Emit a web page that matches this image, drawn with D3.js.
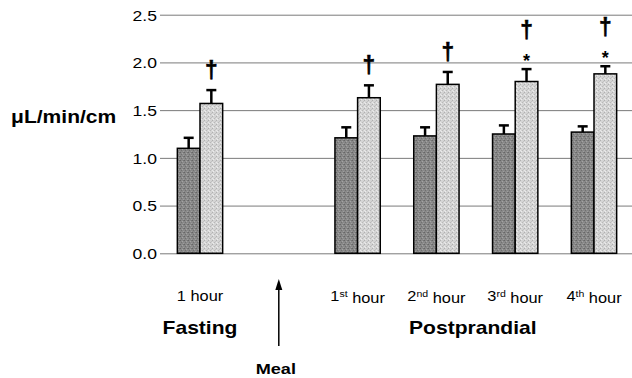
<!DOCTYPE html>
<html>
<head>
<meta charset="utf-8">
<script src="https://cdn.jsdelivr.net/npm/d3@7"></script>
<style>
  html, body { margin: 0; padding: 0; background: #fff; }
  svg { display: block; }
  text { font-family: "Liberation Sans", Arial, Helvetica, sans-serif; fill: #000; }
</style>
</head>
<body>
<svg id="chart" width="632" height="378"></svg>
<script>
// Time slots along the x axis; the "Meal" slot holds no bars.
const categories = ["1 hour", "Meal", "1st hour", "2nd hour", "3rd hour", "4th hour"];
// Two groups of measurements (µL/min/cm) with their error bars.
const seriesDark = [1.10, null, 1.21, 1.23, 1.25, 1.27];
const errorDark  = [0.11, null, 0.11, 0.09, 0.09, 0.06];
const seriesLight = [1.57, null, 1.63, 1.77, 1.80, 1.88];
const errorLight  = [0.14, null, 0.13, 0.13, 0.13, 0.08];
// Significance marks above the light bars.
const daggerMarks = [true, false, true, true, true, true];
const starMarks   = [false, false, false, false, true, true];
const yTicks = [0, 0.5, 1.0, 1.5, 2.0, 2.5];

const svg = d3.select("#chart");
const SX = 1.17; // horizontal stretch of the lettering

const x = d3.scaleBand().domain(categories).range([160.6, 633.4])
  .paddingInner(0.425).paddingOuter(0.2125);
const inner = d3.scaleBand().domain(["dark", "light"]).range([0, x.bandwidth()]);
const y = d3.scaleLinear().domain([0, 2.5]).range([253.3, 14.7]);

// Textured fills for the two bar shades
const defs = svg.append("defs");
function texture(id, base, spots) {
  const p = defs.append("pattern").attr("id", id)
    .attr("patternUnits", "userSpaceOnUse").attr("width", 4).attr("height", 4);
  p.append("rect").attr("width", 4).attr("height", 4).attr("fill", base);
  spots.forEach(([sx, sy, c]) => p.append("rect").attr("x", sx).attr("y", sy)
    .attr("width", 1).attr("height", 1).attr("fill", c));
}
texture("texDark", "#888888", [[0,0,"#666"],[2,1,"#a4a4a4"],[1,2,"#707070"],[3,3,"#9e9e9e"],[3,0,"#747474"]]);
texture("texLight", "#d4d4d4", [[0,0,"#b0b0b0"],[2,2,"#b8b8b8"],[1,3,"#ececec"],[3,1,"#c2c2c2"],[0,2,"#e8e8e8"]]);

// Horizontal grid with tick labels
const axis = svg.append("g").attr("transform", "translate(160,0)")
  .call(d3.axisLeft(y).tickValues(yTicks).tickFormat(d3.format(".1f"))
    .tickSizeInner(-472).tickSizeOuter(0).tickPadding(3));
axis.select(".domain").remove();
axis.selectAll(".tick line").attr("stroke", "#7a7a7a").attr("stroke-width", 1);
axis.selectAll(".tick text")
  .attr("x", null).attr("dy", "0.36em")
  .attr("transform", `translate(-3,0) scale(${SX},1)`)
  .style("font-size", "15px").style("font-family", "'Liberation Sans', Arial, sans-serif")
  .attr("fill", "#000");

// Bars
const groups = categories.map((c, i) => ({ c, i })).filter(d => seriesDark[d.i] !== null);
const barData = [];
groups.forEach(({ c, i }) => {
  barData.push({ c, i, key: "dark", v: seriesDark[i], e: errorDark[i] });
  barData.push({ c, i, key: "light", v: seriesLight[i], e: errorLight[i] });
});

const bars = svg.append("g");
bars.selectAll("rect").data(barData).join("rect")
  .attr("x", d => x(d.c) + inner(d.key))
  .attr("y", d => y(d.v))
  .attr("width", inner.bandwidth())
  .attr("height", d => y(0) - y(d.v))
  .attr("fill", d => d.key === "dark" ? "url(#texDark)" : "url(#texLight)")
  .attr("stroke", "#000").attr("stroke-width", 1.5);

// Error bars (upper whisker only)
const err = svg.append("g").attr("stroke", "#000");
barData.forEach(d => {
  const cx = x(d.c) + inner(d.key) + inner.bandwidth() / 2;
  err.append("line").attr("x1", cx).attr("x2", cx)
    .attr("y1", y(d.v)).attr("y2", y(d.v + d.e)).attr("stroke-width", 2.5);
  err.append("line").attr("x1", cx - 5).attr("x2", cx + 5)
    .attr("y1", y(d.v + d.e)).attr("y2", y(d.v + d.e)).attr("stroke-width", 2.5);
});

// Stretched text helper
function label(g, tx, ty, str, size, weight, anchor, sx) {
  return g.append("text")
    .attr("transform", `translate(${tx},${ty}) scale(${sx || SX},1)`)
    .attr("text-anchor", anchor || "middle")
    .style("font-size", size + "px")
    .style("font-weight", weight || "normal")
    .text(str);
}

// Significance marks
const marks = svg.append("g");
function dagger(cx, baseline) {
  label(marks, cx, baseline, "\u2020", 24, "bold", "middle", 0.95)
    .attr("stroke", "#000").attr("stroke-width", 0.6);
}
groups.forEach(({ c, i }) => {
  const cx = x(c) + inner("light") + inner.bandwidth() / 2;
  const top = y(seriesLight[i] + errorLight[i]);
  if (starMarks[i]) {
    const starCenter = top - 12;
    label(marks, cx, starCenter + 10, "*", 18, "bold", "middle", 1);
    if (daggerMarks[i]) dagger(cx, starCenter - 19);
  } else if (daggerMarks[i]) {
    dagger(cx, top - 12);
  }
});

// Category labels with ordinal superscripts
const cats = svg.append("g");
categories.forEach((c, i) => {
  if (seriesDark[i] === null) return;
  const cx = x(c) + x.bandwidth() / 2;
  const t = cats.append("text")
    .attr("transform", `translate(${cx},301) scale(${SX},1)`)
    .attr("text-anchor", "middle").style("font-size", "14px");
  const m = c.match(/^(\d)(st|nd|rd|th)( .*)$/);
  if (m) {
    t.append("tspan").text(m[1]);
    t.append("tspan").attr("dy", "-0.4em").style("font-size", "9px").text(m[2]);
    t.append("tspan").attr("dy", "0.4em").text(m[3]);
  } else {
    t.text(c);
  }
});

// Phase labels
const fastCenter = x(categories[0]) + x.bandwidth() / 2;
const ppStart = x(categories[2]), ppEnd = x(categories[5]) + x.bandwidth();
label(svg, fastCenter, 334, "Fasting", 18, "bold");
label(svg, (ppStart + ppEnd) / 2 - 3, 334, "Postprandial", 18, "bold");

// Meal arrow
const mealX = x("Meal") + x.bandwidth() / 2;
svg.append("line").attr("x1", mealX).attr("x2", mealX)
  .attr("y1", 289).attr("y2", 346).attr("stroke", "#000").attr("stroke-width", 1.5);
svg.append("path")
  .attr("d", `M${mealX},279 L${mealX - 3.5},290 L${mealX + 3.5},290 Z`)
  .attr("fill", "#000");
label(svg, mealX - 3, 374, "Meal", 15.5, "bold");

// Y axis title
label(svg, 11, 123, "\u03bcL/min/cm", 18, "bold", "start");
</script>
</body>
</html>
